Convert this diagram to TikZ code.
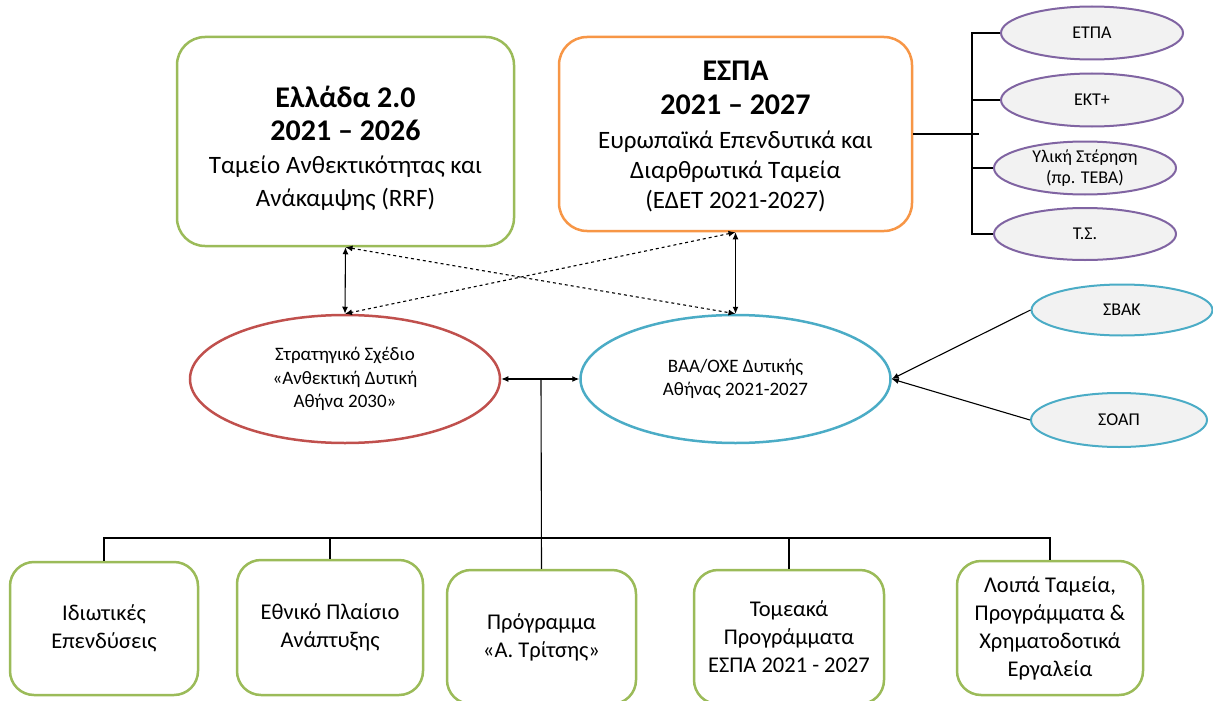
\documentclass[tikz,border=0pt]{standalone}
\usepackage{fontspec}
\setmainfont{Carlito}
\usetikzlibrary{arrows.meta,shapes.geometric}
\definecolor{cgreen}{HTML}{9BBB59}
\definecolor{corange}{HTML}{F79646}
\definecolor{cred}{HTML}{C0504D}
\definecolor{cblue}{HTML}{4BACC6}
\definecolor{cpurple}{HTML}{8064A2}
\definecolor{cfill}{HTML}{F2F2F2}
\newcommand{\bigb}{\fontsize{30}{33}\selectfont\bfseries}
\newcommand{\medt}{\fontsize{25}{33}\selectfont\mdseries}
\begin{document}
\begin{tikzpicture}[x=1pt,y=-1pt,
  bigbox/.style={draw, line width=2.5pt, rounded corners=28pt, inner sep=0pt, fill=white},
  boxtext/.style={align=center, inner sep=0pt},
  lowbox/.style={draw=cgreen, line width=2.5pt, rounded corners=24pt, align=center, inner sep=0pt, fill=white,
    font=\fontsize{22.5}{28}\selectfont},
  bigell/.style={draw, ellipse, line width=2.5pt, align=center, inner sep=0pt, fill=white,
    minimum width=310pt, minimum height=128pt, font=\fontsize{19}{23.5}\selectfont},
  smallell/.style={draw, ellipse, line width=2pt, align=center, inner sep=0pt, fill=cfill,
    font=\fontsize{18}{21}\selectfont},
  conn/.style={line width=1.1pt, black},
  dbl/.style={conn, {Latex[length=7pt,width=6pt]}-{Latex[length=7pt,width=6pt]}},
  sgl/.style={conn, -{Latex[length=7pt,width=6pt]}}
]
\useasboundingbox (0,0) rectangle (1213,701);
\clip (0,0) rectangle (1213,701);

% top boxes
\node[bigbox, draw=cgreen, minimum width=337pt, minimum height=209pt] (greece) at (345.5,141.5) {};
\node[boxtext, font=\fontsize{25}{33}\selectfont] (greecet) at (345.5,148)
  {\bigb Ελλάδα 2.0\\\bigb 2021 – 2026\\\medt Ταμείο Ανθεκτικότητας και\\\medt Ανάκαμψης (RRF)};
\node[bigbox, draw=corange, minimum width=353pt, minimum height=194pt] (espa) at (735.5,134) {};
\node[boxtext, font=\fontsize{25}{30}\selectfont] (espat) at (735.5,137)
  {\bigb ΕΣΠΑ\\[4pt]\bigb 2021 – 2027\\[4pt]\medt Ευρωπαϊκά Επενδυτικά και\\\medt Διαρθρωτικά Ταμεία\\\medt (ΕΔΕΤ 2021-2027)};

% purple ellipses
\node[smallell, draw=cpurple, minimum width=182pt, minimum height=53pt] (etpa) at (1092,33) {ΕΤΠΑ};
\node[smallell, draw=cpurple, minimum width=182pt, minimum height=53pt] (ekt) at (1092,100) {ΕΚΤ+};
\node[smallell, draw=cpurple, minimum width=182pt, minimum height=53pt] (yliki) at (1085,168) {Υλική Στέρηση\\(πρ. ΤΕΒΑ)};
\node[smallell, draw=cpurple, minimum width=182pt, minimum height=52pt] (ts) at (1085,234) {Τ.Σ.};

% middle ellipses
\node[bigell, draw=cred] (red) at (345,379) {Στρατηγικό Σχέδιο\\«Ανθεκτική Δυτική\\Αθήνα 2030»};
\node[bigell, draw=cblue] (blue) at (735.5,379) {ΒΑΑ/ΟΧΕ Δυτικής\\Αθήνας 2021-2027};

% blue small ellipses
\node[smallell, draw=cblue, minimum width=181pt, minimum height=51pt] (sbak) at (1122,310) {ΣΒΑΚ};
\node[smallell, draw=cblue, minimum width=176pt, minimum height=54pt] (soap) at (1119,420) {ΣΟΑΠ};

% bottom boxes
\node[lowbox, minimum width=188pt, minimum height=133pt] (b1) at (104,628.5) {Ιδιωτικές\\Επενδύσεις};
\node[lowbox, minimum width=186pt, minimum height=135pt] (b2) at (330,627.5) {Εθνικό Πλαίσιο\\Ανάπτυξης};
\node[lowbox, minimum width=189pt, minimum height=134pt] (b3) at (541.5,637) {Πρόγραμμα\\«Α. Τρίτσης»};
\node[lowbox, minimum width=190pt, minimum height=134pt] (b4) at (789,637) {Τομεακά\\Προγράμματα\\ΕΣΠΑ 2021 - 2027};
\node[lowbox, minimum width=186pt, minimum height=134pt] (b5) at (1050,628) {Λοιπά Ταμεία,\\Προγράμματα \&\\Χρηματοδοτικά\\Εργαλεία};

% coordinates
\coordinate (tj) at (979,134);
\coordinate (busx) at (972,0);
\coordinate (mid) at (541,379);
\coordinate (busy) at (0,538);

% tree to purple ellipses
\draw[conn] (espa.east) -- (tj);
\draw[conn] (etpa.west) -- (etpa.west -| busx) |- (ts.west);
\draw[conn] (ekt.west) -- (ekt.west -| busx);
\draw[conn] (yliki.west) -- (yliki.west -| busx);

% arrows between top and middle
\draw[dbl] (greece.south) -- (red.north);
\draw[dbl] (espa.south) -- (blue.north);
\draw[dbl, dashed] (greece.south) -- (blue.north);
\draw[dbl, dashed] (espa.south) -- (red.north);
\draw[dbl] (red.east) -- (blue.west);

% blue small ellipses to blue
\draw[sgl] (sbak.west) -- (blue.east);
\draw[sgl] (soap.west) -- (blue.east);

% bottom tree
\draw[conn] (mid) -- (b3.north);
\draw[conn] (b1.north) -- (b1.north |- busy) -| (b5.north);
\draw[conn] (b2.north) -- (b2.north |- busy);
\draw[conn] (b4.north) -- (b4.north |- busy);
\end{tikzpicture}
\end{document}
